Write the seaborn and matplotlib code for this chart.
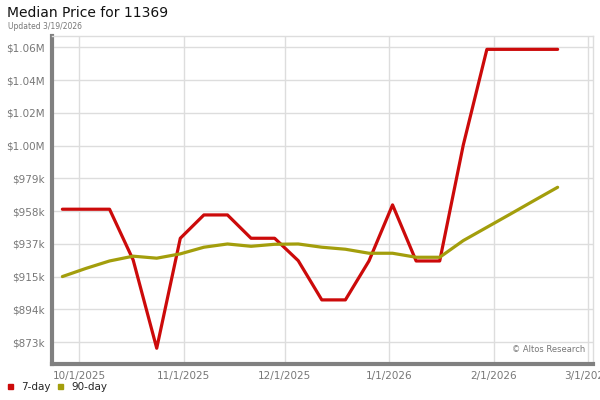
import pandas as pd
import matplotlib.pyplot as plt
import matplotlib.dates as mdates
import seaborn as sns

# weekly median price readings (thousands of $)
dates = pd.date_range('2025-09-26', periods=22, freq='7D')
price_7day = [959.1, 959.1, 959.1, 926.3, 869.1, 940.3, 955.4, 955.4, 940.3, 940.3, 925.8,
              900.4, 900.4, 925.6, 961.9, 925.6, 925.6, 1000.7, 1062.6, 1062.6, 1062.6, 1062.6]
price_90day = [915.5, 920.8, 925.6, 928.7, 927.4, 930.2, 934.5, 936.6, 935.1, 936.4, 936.6,
               934.5, 933.2, 930.6, 930.6, 928.0, 928.0, 938.8, 947.4, 956.0, 964.7, 973.3]
series_names = ['7-day', '90-day']
series_colors = ['#cc0a0a', '#a39e0c']
y_ticks = [873.0 + 21.2 * k for k in range(10)]
x_ticks = ['2025-10-01', '2025-11-01', '2025-12-01', '2026-01-01', '2026-02-01', '2026-03-01']

df = pd.DataFrame({
    'date': list(dates) * 2,
    'price': price_7day + price_90day,
    'series': [series_names[0]] * len(dates) + [series_names[1]] * len(dates),
})

sns.set_style('white')
plt.rcParams['font.family'] = ['DejaVu Sans']

fig = plt.figure(figsize=(6, 4), dpi=100)
ax = fig.add_axes([52 / 600, 0.09, 541 / 600, 0.821])

sns.lineplot(data=df, x='date', y='price', hue='series', palette=series_colors,
             linewidth=2.3, ax=ax, legend=False, zorder=3)

ax.set_xlim(pd.Timestamp('2025-09-22 22:00'), pd.Timestamp('2026-03-02 12:00'))
ax.set_ylim(858.9, 1071.5)

ax.set_yticks(y_ticks)
ax.set_yticklabels([f'${v / 1000:.2f}M' if v >= 999.5 else f'${v:.0f}k' for v in y_ticks])
ax.set_xticks([pd.Timestamp(d) for d in x_ticks])
ax.xaxis.set_major_formatter(mdates.DateFormatter('%-m/%-d/%Y'))

ax.grid(True, color='#dddddd', linewidth=1)
ax.tick_params(axis='both', length=0, labelsize=7.5, labelcolor='#777777', pad=5)
ax.set_xlabel('')
ax.set_ylabel('')

for side in ['top', 'right']:
    ax.spines[side].set_visible(True)
    ax.spines[side].set_color('#dddddd')
    ax.spines[side].set_linewidth(1)
for side in ['left', 'bottom']:
    ax.spines[side].set_color('#808080')
    ax.spines[side].set_linewidth(3)

ax.text(0.985, 0.03, '© Altos Research', transform=ax.transAxes, ha='right', va='bottom',
        fontsize=6, color='#777777')

fig.text(0.012, 0.985, 'Median Price for 11369', ha='left', va='top', fontsize=10, color='#111111')
fig.text(0.013, 0.945, 'Updated 3/19/2026', ha='left', va='top', fontsize=5.5, color='#777777')

# legend along the bottom
fig.patches.append(plt.Rectangle((8 / 600, 1 - 389 / 400), 5 / 600, 5 / 400,
                                 transform=fig.transFigure, color=series_colors[0]))
fig.text(21 / 600, 1 - 386.5 / 400, series_names[0], ha='left', va='center', fontsize=7.5)
fig.patches.append(plt.Rectangle((58 / 600, 1 - 389 / 400), 5 / 600, 5 / 400,
                                 transform=fig.transFigure, color=series_colors[1]))
fig.text(71 / 600, 1 - 386.5 / 400, series_names[1], ha='left', va='center', fontsize=7.5)

fig.savefig('out.png', dpi=100)
